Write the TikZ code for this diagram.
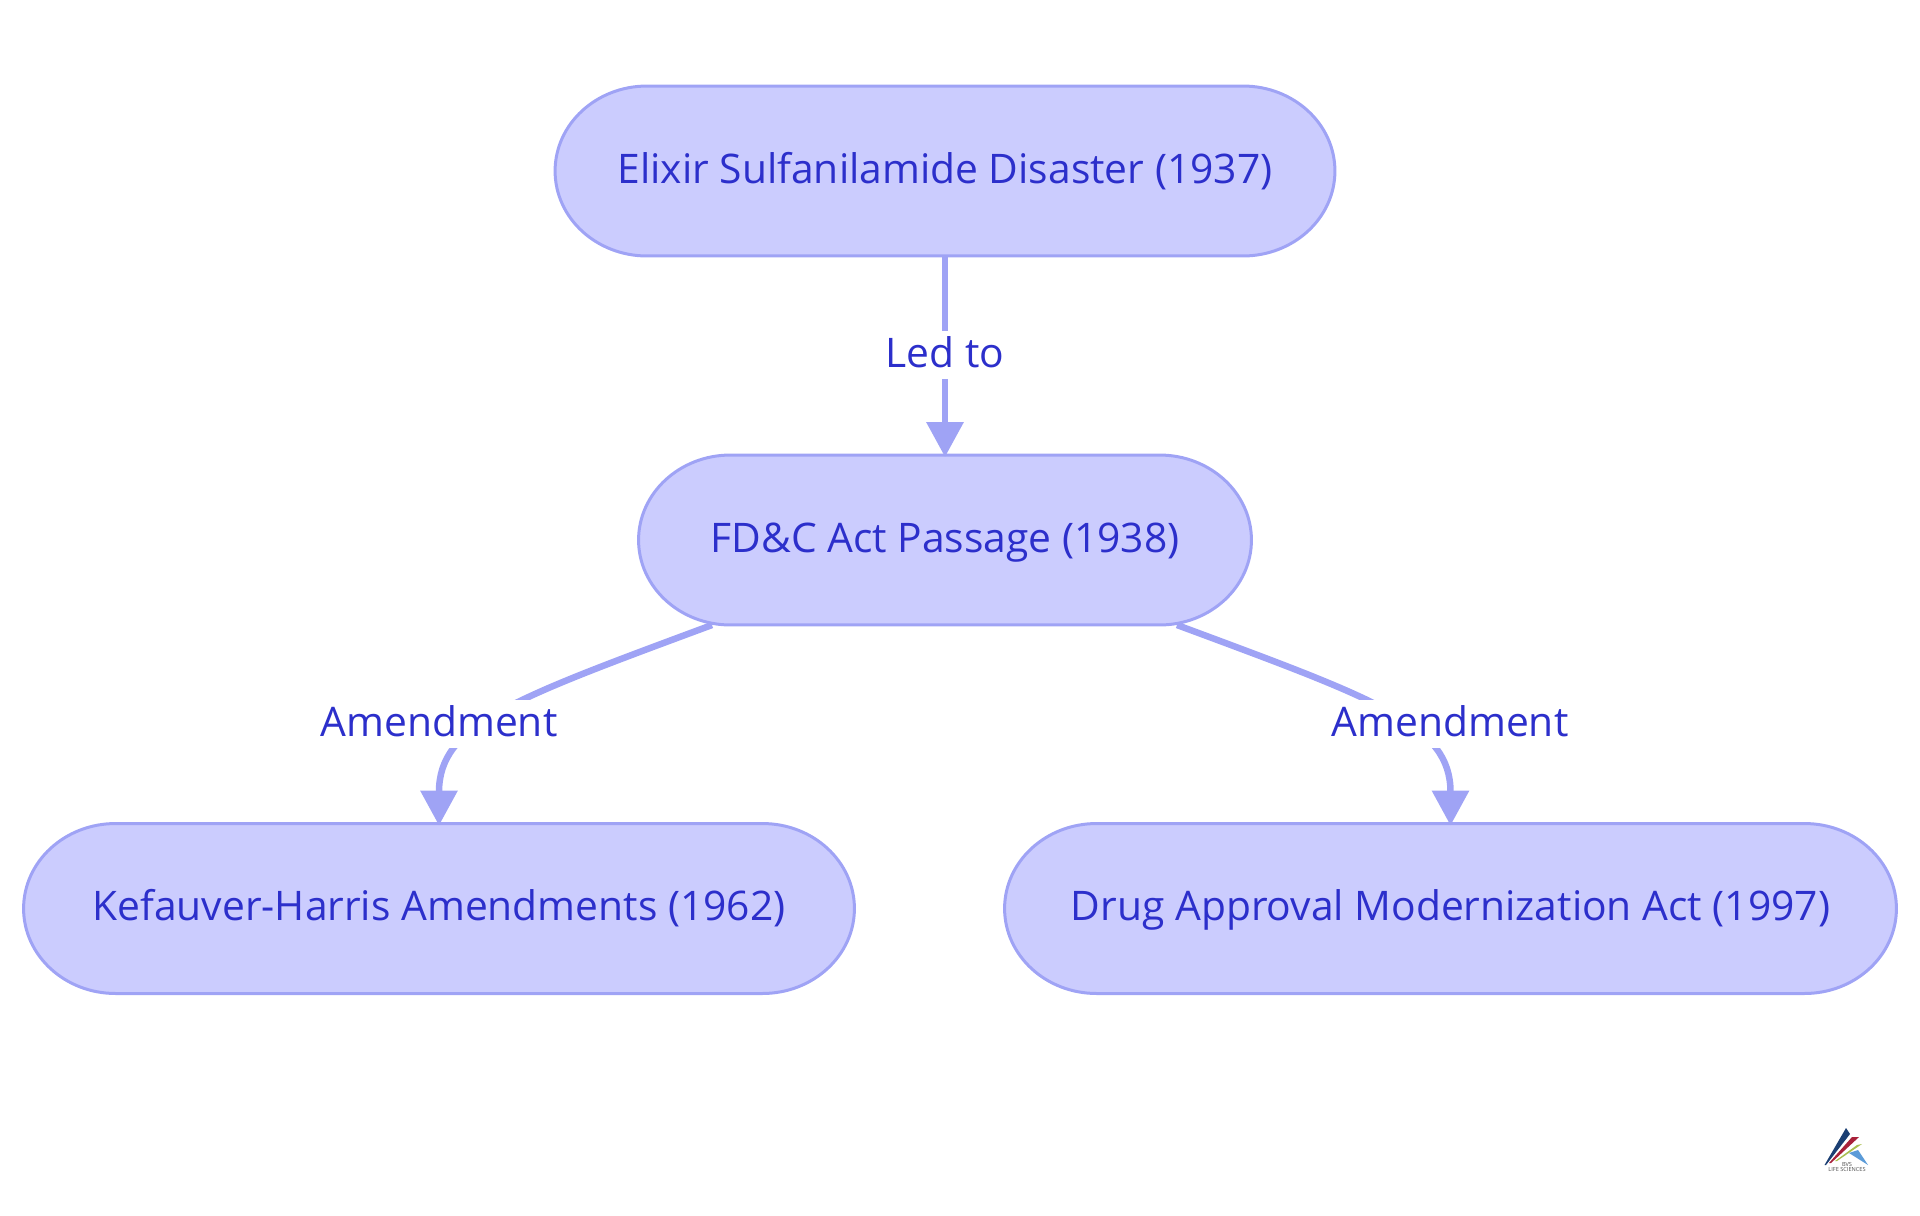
\documentclass[tikz,border=0pt]{standalone}
\usepackage{fontspec}
\setmainfont{Open Sans}
\usepackage{tikz}
\usetikzlibrary{arrows.meta, positioning, backgrounds}

\definecolor{boxfill}{HTML}{CBCCFE}
\definecolor{boxline}{HTML}{9FA3F5}
\definecolor{boxtext}{HTML}{2C2FCB}

\tikzset{
    stage/.style={outer sep=0pt, inner sep=0pt, minimum height=3.4cm, text=boxtext,
        font=\fontsize{23.2}{28}\selectfont, text height=0.7cm, text depth=0.22cm},
    stageline/.style={draw=boxline, fill=boxfill, line width=0.06cm},
    link/.style={draw=boxline, line width=0.13cm, shorten >=-0.04cm, -{Triangle[length=0.7cm,width=0.72cm]}},
    tag/.style={fill=white, text=boxtext, font=\fontsize{23.2}{28}\selectfont, inner sep=0pt,
        minimum height=0.96cm, text height=0.7cm, text depth=0.22cm},
}

\begin{document}
\begin{tikzpicture}[x=0.02cm,y=-0.02cm]
\useasboundingbox (0,0) rectangle (1920,1215);

% Timeline boxes
\node[stage, minimum width=15.6cm] (elixir) at (945,171) {Elixir Sulfanilamide Disaster (1937)};
\node[stage, minimum width=12.26cm] (act) at (945,540) {FD\&C Act Passage (1938)};
\node[stage, minimum width=16.62cm] (kefauver) at (439,908.5) {Kefauver-Harris Amendments (1962)};
\node[stage, minimum width=17.84cm] (modern) at (1450.5,908.5) {Drug Approval Modernization Act (1997)};

% Outlines with oval corners
\begin{pgfonlayer}{background}
\foreach \name in {elixir, act, kefauver, modern} {
    \draw[stageline] (\name.west) arc[start angle=180, end angle=90, x radius=1.84cm, y radius=1.7cm]
        -- ([xshift=-1.84cm]\name.north east) arc[start angle=90, end angle=-90, x radius=1.84cm, y radius=1.7cm]
        -- ([xshift=1.84cm]\name.south west) arc[start angle=270, end angle=180, x radius=1.84cm, y radius=1.7cm]
        -- cycle;
}
\end{pgfonlayer}

% Connectors
\coordinate (actleft) at (712,625);
\coordinate (actright) at (1177,625);
\draw[link] (elixir) -- (act);
\draw[link] (actleft) .. controls (510,700) and (kefauver.north |- 0,725) .. (kefauver.north);
\draw[link] (actright) .. controls (1379,700) and (modern.north |- 0,725) .. (modern.north);

% Labels on the connectors
\node[tag] (ledto) at (945,355) {Led to};
\node[tag] (amendleft) at (439,724) {Amendment};
\node[tag] (amendright) at (1450,724) {Amendment};

% Logo
\definecolor{logonavy}{HTML}{1B3F73}
\definecolor{logored}{HTML}{A8213A}
\definecolor{logogreen}{HTML}{A9BE4F}
\definecolor{logoblue}{HTML}{5B9BD8}
\fill[logonavy] (1824.5,1165) -- (1846,1128) -- (1850,1134) -- (1826,1165) -- cycle;
\fill[logored] (1829,1163) -- (1852,1137) -- (1859,1137) -- (1831,1163) -- cycle;
\fill[logogreen] (1835,1161) -- (1857,1145) -- (1862,1144) -- (1837,1161) -- cycle;
\fill[logoblue] (1849,1153) -- (1858,1150) -- (1868,1165) -- cycle;
\node[text=black!70, font=\fontsize{3.2}{3}\selectfont, align=center, inner sep=0pt] (logotext) at (1847,1167) {BVS\\LIFE SCIENCES};

\end{tikzpicture}
\end{document}
